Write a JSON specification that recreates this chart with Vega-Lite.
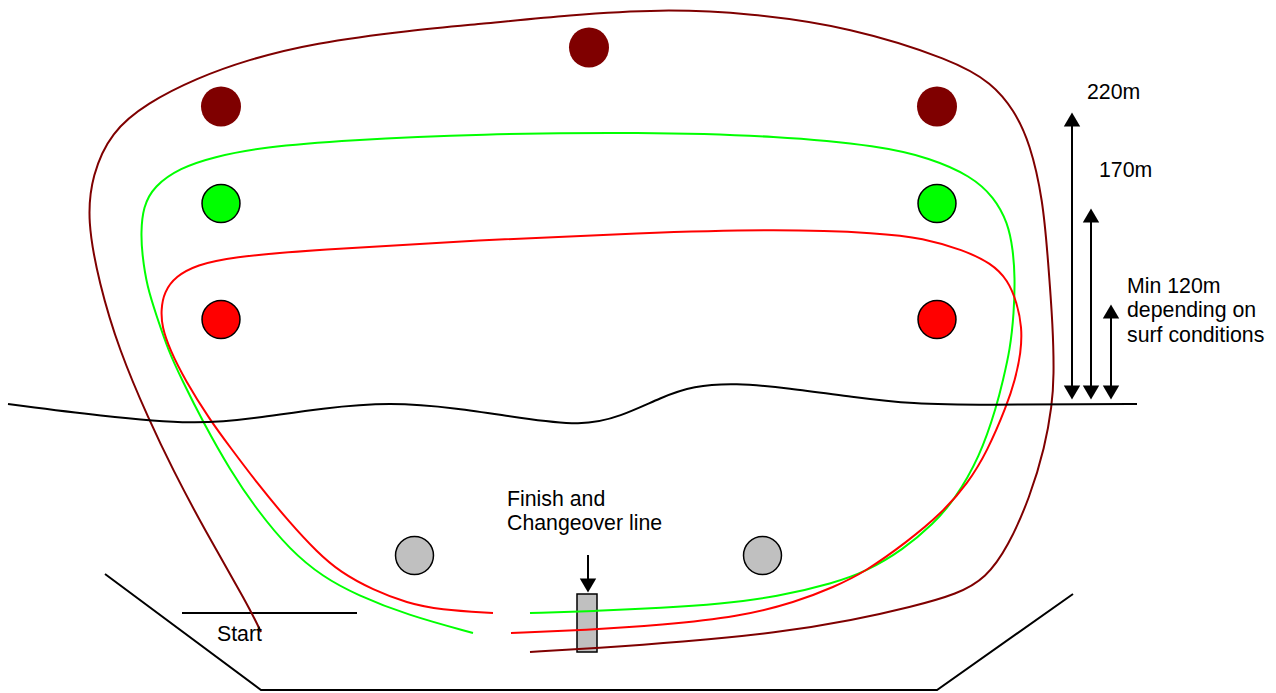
{"$schema":"https://vega.github.io/schema/vega-lite/v6.json","width":1276,"height":693,"padding":0,"background":"white","view":{"stroke":null},
"datasets":{
"curves":[
{"s":"brown","i":0,"x":261,"y":632},{"s":"brown","i":1,"x":248,"y":605},{"s":"brown","i":2,"x":203,"y":527},{"s":"brown","i":2.5,"x":173,"y":470},{"s":"brown","i":3,"x":149,"y":420},{"s":"brown","i":4,"x":119,"y":350},{"s":"brown","i":5,"x":99,"y":283},{"s":"brown","i":6,"x":87,"y":220},{"s":"brown","i":7,"x":92,"y":175},{"s":"brown","i":8,"x":111,"y":132},{"s":"brown","i":9,"x":147,"y":103},{"s":"brown","i":10,"x":197,"y":78},{"s":"brown","i":11,"x":247,"y":60},{"s":"brown","i":12,"x":313,"y":43},{"s":"brown","i":13,"x":413,"y":30},{"s":"brown","i":14,"x":480,"y":24},{"s":"brown","i":15,"x":570,"y":15},{"s":"brown","i":16,"x":660,"y":9},{"s":"brown","i":17,"x":750,"y":13},{"s":"brown","i":18,"x":850,"y":27},{"s":"brown","i":19,"x":953,"y":60},{"s":"brown","i":20,"x":992,"y":83},{"s":"brown","i":21,"x":1014,"y":110},{"s":"brown","i":22,"x":1030,"y":143},{"s":"brown","i":23,"x":1043,"y":200},{"s":"brown","i":24,"x":1048,"y":260},{"s":"brown","i":25,"x":1053,"y":327},{"s":"brown","i":26,"x":1054,"y":377},{"s":"brown","i":27,"x":1052,"y":405},{"s":"brown","i":28,"x":1045,"y":447},{"s":"brown","i":29,"x":1030,"y":497},{"s":"brown","i":30,"x":1008,"y":547},{"s":"brown","i":31,"x":986,"y":578},{"s":"brown","i":32,"x":958,"y":594},{"s":"brown","i":33,"x":911,"y":607},{"s":"brown","i":34,"x":854,"y":620},{"s":"brown","i":35,"x":777,"y":633},{"s":"brown","i":36,"x":681,"y":642},{"s":"brown","i":37,"x":597,"y":648},{"s":"brown","i":38,"x":530,"y":652},
{"s":"green","i":0,"x":473,"y":633},{"s":"green","i":1,"x":407,"y":615},{"s":"green","i":2,"x":357,"y":595},{"s":"green","i":3,"x":323,"y":577},{"s":"green","i":4,"x":290,"y":550},{"s":"green","i":5,"x":257,"y":510},{"s":"green","i":6,"x":230,"y":470},{"s":"green","i":7,"x":203,"y":422},{"s":"green","i":8,"x":182,"y":380},{"s":"green","i":9,"x":168,"y":350},{"s":"green","i":10,"x":157,"y":317},{"s":"green","i":11,"x":147,"y":287},{"s":"green","i":12,"x":142,"y":253},{"s":"green","i":13,"x":141,"y":233},{"s":"green","i":14,"x":143,"y":207},{"s":"green","i":15,"x":154,"y":186},{"s":"green","i":16,"x":180,"y":168},{"s":"green","i":17,"x":213,"y":157},{"s":"green","i":18,"x":263,"y":147},{"s":"green","i":19,"x":347,"y":140},{"s":"green","i":20,"x":480,"y":134},{"s":"green","i":21,"x":640,"y":132},{"s":"green","i":22,"x":780,"y":136},{"s":"green","i":23,"x":880,"y":146},{"s":"green","i":24,"x":930,"y":158},{"s":"green","i":25,"x":971,"y":176},{"s":"green","i":26,"x":994,"y":197},{"s":"green","i":27,"x":1008,"y":223},{"s":"green","i":28,"x":1013,"y":250},{"s":"green","i":29,"x":1015,"y":277},{"s":"green","i":30,"x":1014,"y":313},{"s":"green","i":31,"x":1010,"y":350},{"s":"green","i":32,"x":1003,"y":380},{"s":"green","i":33,"x":997,"y":405},{"s":"green","i":34,"x":980,"y":457},{"s":"green","i":35,"x":953,"y":502},{"s":"green","i":36,"x":934,"y":523},{"s":"green","i":37,"x":903,"y":550},{"s":"green","i":38,"x":865,"y":572},{"s":"green","i":39,"x":834,"y":583},{"s":"green","i":40,"x":777,"y":597},{"s":"green","i":41,"x":720,"y":604},{"s":"green","i":42,"x":662,"y":608},{"s":"green","i":43,"x":597,"y":611},{"s":"green","i":44,"x":530,"y":613},
{"s":"red","i":0,"x":493,"y":613},{"s":"red","i":1,"x":440,"y":610},{"s":"red","i":2,"x":407,"y":603},{"s":"red","i":3,"x":373,"y":590},{"s":"red","i":4,"x":340,"y":572},{"s":"red","i":5,"x":317,"y":552},{"s":"red","i":6,"x":290,"y":523},{"s":"red","i":7,"x":257,"y":483},{"s":"red","i":8,"x":230,"y":447},{"s":"red","i":9,"x":210,"y":420},{"s":"red","i":10,"x":185,"y":380},{"s":"red","i":11,"x":170,"y":350},{"s":"red","i":12,"x":162,"y":327},{"s":"red","i":13,"x":161,"y":310},{"s":"red","i":14,"x":164,"y":292},{"s":"red","i":15,"x":176,"y":276},{"s":"red","i":16,"x":197,"y":265},{"s":"red","i":17,"x":230,"y":257},{"s":"red","i":18,"x":313,"y":250},{"s":"red","i":19,"x":480,"y":240},{"s":"red","i":20,"x":640,"y":233},{"s":"red","i":21,"x":780,"y":229},{"s":"red","i":22,"x":880,"y":233},{"s":"red","i":23,"x":923,"y":238},{"s":"red","i":24,"x":963,"y":250},{"s":"red","i":25,"x":991,"y":263},{"s":"red","i":26,"x":1008,"y":280},{"s":"red","i":27,"x":1017,"y":303},{"s":"red","i":28,"x":1022,"y":327},{"s":"red","i":29,"x":1021,"y":353},{"s":"red","i":30,"x":1015,"y":380},{"s":"red","i":31,"x":1007,"y":405},{"s":"red","i":32,"x":987,"y":452},{"s":"red","i":33,"x":968,"y":483},{"s":"red","i":34,"x":942,"y":513},{"s":"red","i":35,"x":907,"y":542},{"s":"red","i":36,"x":865,"y":572},{"s":"red","i":37,"x":834,"y":587},{"s":"red","i":38,"x":796,"y":602},{"s":"red","i":39,"x":739,"y":617},{"s":"red","i":40,"x":662,"y":625},{"s":"red","i":41,"x":586,"y":630},{"s":"red","i":42,"x":511,"y":633},
{"s":"shore","i":0,"x":8,"y":404},{"s":"shore","i":1,"x":100,"y":416},{"s":"shore","i":2,"x":197,"y":425},{"s":"shore","i":3,"x":257,"y":418},{"s":"shore","i":4,"x":323,"y":408},{"s":"shore","i":5,"x":390,"y":402},{"s":"shore","i":6,"x":457,"y":408},{"s":"shore","i":7,"x":520,"y":418},{"s":"shore","i":8,"x":582,"y":426},{"s":"shore","i":9,"x":620,"y":417},{"s":"shore","i":10,"x":662,"y":397},{"s":"shore","i":11,"x":693,"y":386},{"s":"shore","i":12,"x":735,"y":383},{"s":"shore","i":13,"x":788,"y":388},{"s":"shore","i":14,"x":853,"y":397},{"s":"shore","i":15,"x":911,"y":404},{"s":"shore","i":16,"x":987,"y":405},{"s":"shore","i":17,"x":1090,"y":404},{"s":"shore","i":18,"x":1137,"y":404}],
"straight":[
{"s":"beach","i":0,"x":105,"y":574},{"s":"beach","i":1,"x":261,"y":690},{"s":"beach","i":2,"x":937,"y":690},{"s":"beach","i":3,"x":1073,"y":594},
{"s":"start","i":0,"x":182,"y":613},{"s":"start","i":1,"x":357,"y":613},
{"s":"a220","i":0,"x":1072,"y":125},{"s":"a220","i":1,"x":1072,"y":387},
{"s":"a170","i":0,"x":1091,"y":221},{"s":"a170","i":1,"x":1091,"y":387},
{"s":"a120","i":0,"x":1111,"y":317},{"s":"a120","i":1,"x":1111,"y":387},
{"s":"finish","i":0,"x":588,"y":555},{"s":"finish","i":1,"x":588,"y":580}],
"heads":[
{"x":1072,"y":119.5,"d":"up"},{"x":1072,"y":392.5,"d":"down"},
{"x":1091,"y":215.5,"d":"up"},{"x":1091,"y":392.5,"d":"down"},
{"x":1111,"y":311.5,"d":"up"},{"x":1111,"y":392.5,"d":"down"},
{"x":588,"y":585.5,"d":"down"}],
"buoys":[
{"x":221,"y":106.5,"c":"brown"},{"x":589,"y":47.5,"c":"brown"},{"x":937,"y":106.5,"c":"brown"},
{"x":221,"y":203.5,"c":"green"},{"x":937,"y":203.5,"c":"green"},
{"x":221,"y":319.5,"c":"red"},{"x":937,"y":319.5,"c":"red"},
{"x":414.5,"y":555.5,"c":"grey"},{"x":762.5,"y":555.5,"c":"grey"}],
"box":[{"x":577,"x2":597,"y":594,"y2":652}],
"labels":[
{"x":1087,"y":99,"t":"220m"},{"x":1099,"y":177,"t":"170m"},
{"x":1127,"y":293,"t":"Min 120m"},{"x":1127,"y":317,"t":"depending on"},{"x":1127,"y":342,"t":"surf conditions"},
{"x":507,"y":506,"t":"Finish and"},{"x":507,"y":530,"t":"Changeover line"},{"x":217,"y":641,"t":"Start"}]
},
"encoding":{
"x":{"field":"x","type":"quantitative","axis":null,"scale":{"domain":[0,1276],"nice":false,"zero":false}},
"y":{"field":"y","type":"quantitative","axis":null,"scale":{"domain":[693,0],"nice":false,"zero":false}}},
"layer":[
{"data":{"name":"box"},"mark":{"type":"rect","fill":"#c0c0c0","stroke":"#000000","strokeWidth":1.5},"encoding":{"x2":{"field":"x2"},"y2":{"field":"y2"}}},
{"data":{"name":"straight"},"mark":{"type":"line","interpolate":"linear","strokeWidth":2,"color":"#000000"},"encoding":{"detail":{"field":"s"},"order":{"field":"i"}}},
{"data":{"name":"heads"},"mark":{"type":"point","filled":true,"size":270,"opacity":1,"color":"#000000"},"encoding":{"shape":{"field":"d","type":"nominal","legend":null,"scale":{"domain":["up","down"],"range":["triangle-up","triangle-down"]}}}},
{"data":{"name":"curves"},"mark":{"type":"line","interpolate":"basis","strokeWidth":2},"encoding":{"color":{"field":"s","type":"nominal","legend":null,"scale":{"domain":["brown","green","red","shore"],"range":["#7f0000","#00ff00","#ff0000","#000000"]}},"order":{"field":"i"}}},
{"data":{"name":"buoys"},"transform":[{"filter":"datum.c!='brown'"}],"mark":{"type":"point","shape":"circle","filled":true,"size":1440,"opacity":1,"stroke":"#000000","strokeWidth":1.5},"encoding":{"fill":{"field":"c","type":"nominal","legend":null,"scale":{"domain":["brown","green","red","grey"],"range":["#7f0000","#00ff00","#ff0000","#c0c0c0"]}}}},
{"data":{"name":"buoys"},"transform":[{"filter":"datum.c=='brown'"}],"mark":{"type":"point","shape":"circle","filled":true,"size":1600,"opacity":1,"color":"#7f0000"}},
{"data":{"name":"labels"},"mark":{"type":"text","align":"left","baseline":"alphabetic","font":"Liberation Sans","fontSize":21.3,"color":"#000000"},"encoding":{"text":{"field":"t"}}}
]}
